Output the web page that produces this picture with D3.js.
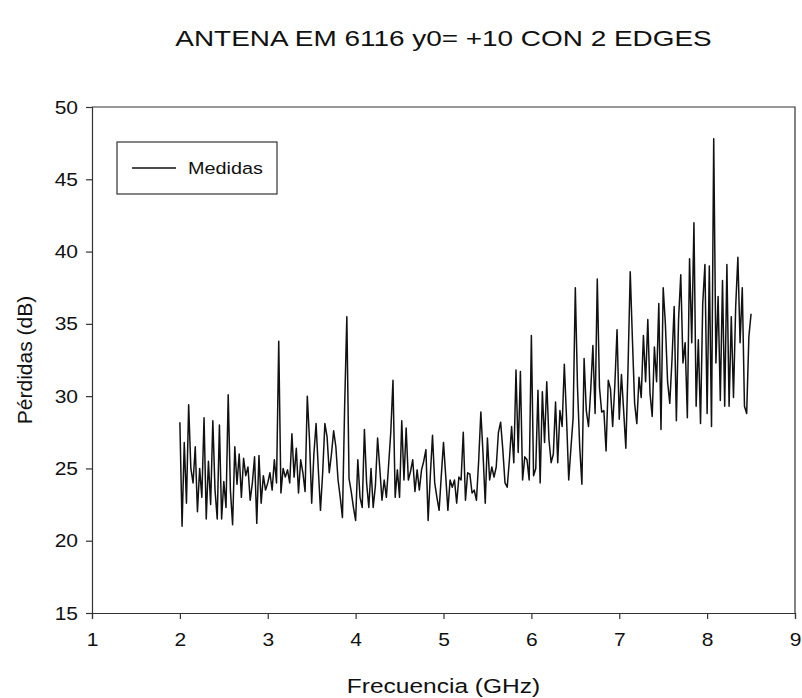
<!DOCTYPE html>
<html>
<head>
<meta charset="utf-8">
<script src="https://cdn.jsdelivr.net/npm/d3@7"></script>
<style>
  body { margin: 0; background: #fff; }
  svg { display: block; font-family: "Liberation Sans", Arial, sans-serif; }
</style>
</head>
<body>
<svg id="chart" width="802" height="698"></svg>
<script>
const FREQ_START = 2.0;
const FREQ_STEP = 0.025;
const lossDb = [
  28.2, 21.0, 26.8, 22.6, 29.4, 25.0, 24.0, 26.5, 22.0, 25.0,
  23.0, 28.5, 21.5, 25.5, 22.5, 28.3, 23.5, 21.5, 28.0, 21.5,
  24.1, 22.3, 30.1, 23.5, 21.1, 26.5, 23.9, 26.0, 23.0, 25.7,
  24.5, 25.1, 22.8, 24.0, 25.8, 21.2, 25.9, 22.6, 24.5, 23.5,
  24.0, 24.7, 23.5, 25.6, 24.0, 33.8, 23.3, 25.0, 24.4, 24.9,
  24.0, 27.4, 24.4, 26.4, 23.3, 25.6, 24.7, 23.4, 30.0, 27.0,
  22.6, 26.0, 28.1, 25.0, 22.1, 24.7, 28.1, 27.2, 24.7, 26.0,
  27.6, 26.5, 24.2, 23.0, 21.6, 29.3, 35.5, 24.3, 23.4, 22.3,
  21.4, 25.6, 23.0, 22.3, 27.7, 24.0, 22.3, 25.0, 22.3, 23.8,
  27.1, 25.0, 22.8, 24.2, 23.0, 25.2, 27.5, 31.1, 23.0, 24.9,
  23.0, 28.3, 24.2, 27.8, 24.2, 24.8, 25.6, 23.4, 24.9, 23.5,
  24.9, 25.5, 26.3, 21.4, 24.5, 27.3, 24.0, 23.0, 22.1, 24.5,
  26.8, 24.5, 22.1, 24.2, 23.7, 24.2, 22.6, 24.4, 24.2, 27.5,
  22.8, 24.7, 24.6, 23.3, 23.5, 22.8, 25.5, 28.9, 26.0, 22.6,
  27.1, 24.2, 25.1, 24.4, 25.1, 27.5, 28.2, 26.3, 24.0, 23.7,
  25.6, 27.9, 25.4, 31.8, 26.1, 31.7, 24.2, 25.8, 25.6, 24.2,
  34.2, 24.5, 25.0, 30.4, 24.0, 30.3, 26.8, 31.0, 27.0, 25.4,
  26.0, 29.6, 25.4, 29.0, 27.9, 32.2, 28.5, 24.2, 26.4, 28.5,
  37.5, 30.6, 26.5, 23.9, 32.6, 29.0, 27.9, 30.4, 33.5, 28.8,
  38.1, 30.6, 28.9, 29.0, 26.2, 31.1, 30.5, 27.9, 30.8, 34.6,
  28.4, 31.5, 29.0, 26.4, 32.0, 38.6, 33.9, 29.5, 28.1, 31.3,
  29.9, 34.2, 31.0, 35.3, 30.2, 28.6, 33.4, 31.0, 36.4, 27.7,
  37.5, 35.0, 31.0, 29.5, 32.5, 36.2, 28.3, 35.3, 38.4, 32.3,
  33.7, 28.5, 39.5, 33.7, 42.0, 29.3, 33.9, 28.1, 36.4, 39.1,
  28.8, 39.0, 27.9, 47.8, 32.3, 36.9, 29.7, 38.0, 29.3, 39.1,
  29.3, 35.5, 29.9, 36.2, 39.6, 33.7, 37.5, 29.3, 28.8, 34.1, 35.7
];
const xTicks = [1, 2, 3, 4, 5, 6, 7, 8, 9];
const yTicks = [15, 20, 25, 30, 35, 40, 45, 50];
const seriesName = "Medidas";

// the reference glyphs are a bit wider than tall
const STRETCH = 1.2;

const svg = d3.select("#chart");
const margin = { top: 107, right: 7, bottom: 85, left: 92 };
const width = 802, height = 698;
const innerW = width - margin.left - margin.right;
const innerH = height - margin.top - margin.bottom;

const x = d3.scaleLinear().domain([1, 9]).range([margin.left, margin.left + innerW]);
const y = d3.scaleLinear().domain([15, 50]).range([margin.top + innerH, margin.top]);

const points = lossDb.map((v, i) => [FREQ_START + i * FREQ_STEP, v]);

// frame (top + right)
svg.append("path")
  .attr("d", `M${x(1)},${y(50)}H${x(9)}V${y(15)}`)
  .attr("fill", "none").attr("stroke", "#333").attr("stroke-width", 1.2);

// series
svg.append("path")
  .datum(points)
  .attr("fill", "none")
  .attr("stroke", "#111")
  .attr("stroke-width", 1.5)
  .attr("stroke-linejoin", "round")
  .attr("d", d3.line().x(d => x(d[0])).y(d => y(d[1])));

// axes
const xAxis = svg.append("g")
  .attr("transform", `translate(0,${y(15)})`)
  .call(d3.axisBottom(x).tickValues(xTicks).tickFormat(d3.format("d")).tickSizeOuter(0).tickSize(6));
const yAxis = svg.append("g")
  .attr("transform", `translate(${x(1)},0)`)
  .call(d3.axisLeft(y).tickValues(yTicks).tickFormat(d3.format("d")).tickSizeOuter(0).tickSize(6));

[xAxis, yAxis].forEach(a => {
  a.selectAll("path, line").attr("stroke", "#333").attr("stroke-width", 1.2);
  a.selectAll("text").attr("fill", "#111")
    .style("font-size", "17.5px")
    .style("font-family", "'Liberation Sans', Arial, sans-serif");
});
xAxis.selectAll("text")
  .attr("y", 0).attr("dy", 0)
  .attr("transform", `translate(0,33) scale(${STRETCH},1)`);
yAxis.selectAll("text")
  .attr("x", 0).attr("dy", "0.35em")
  .attr("transform", `translate(-14,0) scale(${STRETCH},1)`);

// title and axis labels
function hText(cx, cy, size, str) {
  svg.append("text")
    .attr("transform", `translate(${cx},${cy}) scale(${STRETCH + 0.07},1)`)
    .attr("text-anchor", "middle")
    .style("font-size", size + "px").attr("fill", "#111")
    .text(str);
}
hText((x(1) + x(9)) / 2, 46, 22, "ANTENA EM 6116 y0= +10 CON 2 EDGES");
hText((x(1) + x(9)) / 2, 693, 19.3, "Frecuencia (GHz)");

svg.append("text")
  .attr("transform", `translate(32,${(y(15) + y(50)) / 2}) rotate(-90)`)
  .attr("text-anchor", "middle")
  .style("font-size", "21px").attr("fill", "#111")
  .text("Pérdidas (dB)");

// legend
const legend = svg.append("g").attr("transform", "translate(117,142)");
legend.append("rect")
  .attr("width", 160).attr("height", 52)
  .attr("fill", "#fff").attr("stroke", "#333").attr("stroke-width", 1.2);
legend.append("line")
  .attr("x1", 15).attr("x2", 59).attr("y1", 26).attr("y2", 26)
  .attr("stroke", "#111").attr("stroke-width", 1.4);
legend.append("text")
  .attr("transform", `translate(71,32) scale(${STRETCH},1)`)
  .style("font-size", "16.5px").attr("fill", "#111")
  .text(seriesName);
</script>
</body>
</html>
